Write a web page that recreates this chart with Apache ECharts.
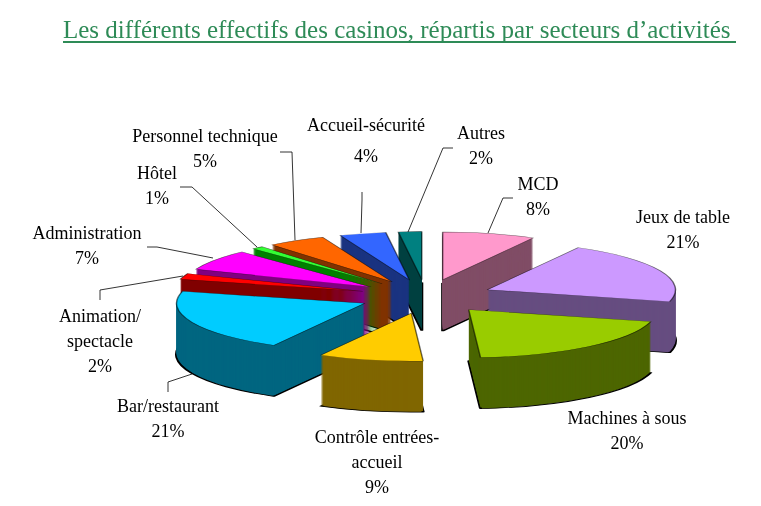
<!DOCTYPE html>
<html>
<head>
<meta charset="utf-8">
<script src="https://cdn.jsdelivr.net/npm/echarts@6/dist/echarts.min.js"></script>
<style>
    html, body { margin: 0; padding: 0; background: #ffffff; }
    #stage { position: relative; width: 761px; height: 506px; overflow: hidden; }
    #pie { position: absolute; left: 0; top: 0; width: 761px; height: 745px; transform-origin: 0 0; }
    #labels { position: absolute; left: 0; top: 0; width: 761px; height: 506px; }
</style>
</head>
<body>
<div id="stage">
    <div id="pie"></div>
    <div id="labels"></div>
</div>
<script>
    // Data: sectors, clockwise from 12 o'clock
    const CATEGORIES = [
        'MCD', 'Jeux de table', 'Machines à sous', 'Contrôle entrées-\naccueil',
        'Bar/restaurant', 'Animation/\nspectacle', 'Administration', 'Hôtel',
        'Personnel technique', 'Accueil-sécurité', 'Autres'
    ];
    const VALUES = [8, 21, 20, 9, 21, 2, 7, 1, 5, 4, 2];

    // Top face colours and the darker side colours of the 3D look
    const TOP_COLORS = ['#FF99CC', '#CC99FF', '#99CC00', '#FFCC00', '#00CCFF', '#FF0000',
        '#FF00FF', '#33FF33', '#FF6600', '#3366FF', '#008080'];
    const SIDE_COLORS = ['#804D66', '#664D80', '#4D6600', '#806600', '#006680', '#800000',
        '#800080', '#008000', '#803300', '#1A3380', '#004040'];

    // Geometry of the tilted pie (visual pixels)
    const CX = 426;        // centre x
    const CY = 296.5;      // centre y of the top face
    const RADIUS = 188;
    const TILT = 0.255;    // vertical squash of the disc
    const DEPTH = 51;      // thickness of the slices
    const EXPLODE = 67;    // every slice pulled out
    const CY_UNSCALED = 280;

    // Where the hand-placed labels sit, and their leader lines
    const LABEL_SPOTS = [
        { x: 538, y: 198, line: [[488, 233], [503, 198], [513, 198]] },
        { x: 683, y: 231 },
        { x: 627, y: 432 },
        { x: 377, y: 463 },
        { x: 168, y: 420, line: [[192, 374], [168, 382], [168, 392]] },
        { x: 100, y: 342, line: [[183, 276], [100, 290], [100, 300]] },
        { x: 87, y: 247, line: [[213, 258], [157, 247], [147, 247]] },
        { x: 157, y: 187, line: [[257, 247], [192, 187], [180, 187]] },
        { x: 205, y: 150, line: [[295, 240], [292, 152], [280, 152]] },
        { x: 366, y: 142, lineHeight: 31, line: [[361, 233], [362, 200], [362, 192]] },
        { x: 481, y: 147, line: [[408, 232], [443, 148], [453, 148]] }
    ];

    const FONT = 'Liberation Serif';
    const TITLE_GREEN = '#2E8B57';

    /**
     * Builds one pie layer; the stack of layers gives the slices their thickness.
     */
    function pieLayer(centerY, colors, border) {
        return {
            type: 'pie',
            silent: true,
            center: [CX, centerY],
            radius: RADIUS,
            startAngle: 90,
            clockwise: true,
            selectedMode: 'multiple',
            selectedOffset: EXPLODE,
            label: { show: false },
            labelLine: { show: false },
            itemStyle: border,
            data: CATEGORIES.map((name, i) => ({
                name: name,
                value: VALUES[i],
                selected: true,
                itemStyle: { color: colors[i] }
            }))
        };
    }

    function renderPie() {
        const pieDom = document.getElementById('pie');
        const top = CY - TILT * CY_UNSCALED;
        pieDom.style.transform = `translateY(${top}px) scaleY(${TILT})`;
        const chart = echarts.init(pieDom, null, { renderer: 'svg' });

        const series = [];
        // Deepest layer first so upper layers paint over it
        for (let i = DEPTH; i >= 1; i--) {
            const border = i === DEPTH
                ? { borderColor: '#000000', borderWidth: 3 }
                : { borderWidth: 0 };
            series.push(pieLayer(CY_UNSCALED + i / TILT, SIDE_COLORS, border));
        }
        series.push(pieLayer(CY_UNSCALED, TOP_COLORS, { borderColor: 'rgba(0,0,0,0.55)', borderWidth: 1.5 }));

        chart.setOption({ animation: false, series: series });
    }

    function renderLabels() {
        const chart = echarts.init(document.getElementById('labels'));
        chart.setOption({
            animation: false,
            textStyle: { fontFamily: FONT },
            title: {
                text: 'Les différents effectifs des casinos, répartis par secteurs d’activités',
                left: 63,
                top: 19,
                padding: 0,
                textStyle: { fontFamily: FONT, fontSize: 25, fontWeight: 'normal', color: TITLE_GREEN }
            },
            graphic: [{
                type: 'rect',
                left: 63,
                top: 41,
                shape: { width: 673, height: 2 },
                style: { fill: TITLE_GREEN }
            }],
            series: [{
                type: 'pie',
                silent: true,
                center: [CX, CY],
                radius: 40,
                startAngle: 90,
                clockwise: true,
                avoidLabelOverlap: false,
                itemStyle: { color: 'rgba(0,0,0,0)' },
                label: {
                    show: true,
                    overflow: 'none',
                    color: '#000000',
                    fontFamily: FONT,
                    fontSize: 18,
                    lineHeight: 25,
                    formatter: p => p.name + '\n' + Math.round(p.percent) + '%'
                },
                labelLine: { show: true, lineStyle: { color: '#000000', width: 0.8 } },
                labelLayout: p => {
                    const spot = LABEL_SPOTS[p.dataIndex];
                    const out = { x: spot.x, y: spot.y, align: 'center', verticalAlign: 'middle' };
                    if (spot.line) {
                        out.labelLinePoints = spot.line;
                    }
                    return out;
                },
                data: CATEGORIES.map((name, i) => {
                    const item = { name: name, value: VALUES[i], labelLine: { show: !!LABEL_SPOTS[i].line } };
                    if (LABEL_SPOTS[i].lineHeight) {
                        item.label = { lineHeight: LABEL_SPOTS[i].lineHeight };
                    }
                    return item;
                })
            }]
        });
    }

    renderPie();
    renderLabels();
</script>
</body>
</html>
